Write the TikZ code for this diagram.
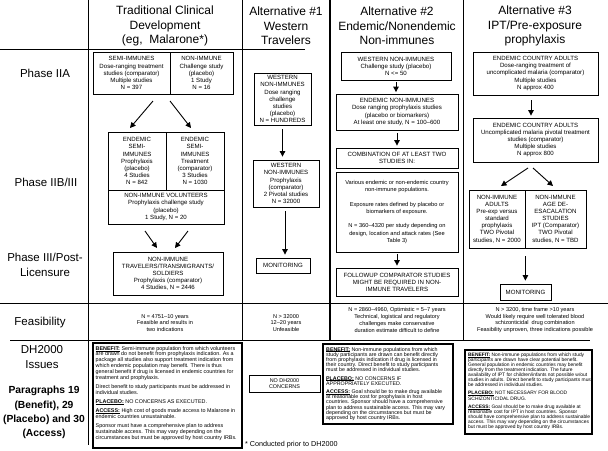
\documentclass[tikz,border=0pt]{standalone}
\usepackage{fontspec}
\setmainfont{Liberation Sans}
\usetikzlibrary{arrows.meta,calc}
\newcommand{\hdrf}{\fontsize{12}{14.5}\selectfont}
\newcommand{\phf}{\fontsize{11.5}{15}\selectfont}
\newcommand{\pbf}{\fontsize{10.3}{14.3}\selectfont\bfseries}
\newcommand{\bxf}{\fontsize{6.1}{7.1}\selectfont}
\newcommand{\bxsf}{\fontsize{5.7}{7.3}\selectfont}
\newcommand{\fsf}{\fontsize{5.6}{6.7}\selectfont}
\newcommand{\dhf}{\fontsize{5.4}{5.8}\selectfont}
\newcommand{\dhm}{\fontsize{5.3}{5.2}\selectfont}
\newcommand{\dhg}{\fontsize{4.9}{5.1}\selectfont}
\newsavebox{\kwbox}
\newcommand{\kw}[1]{\sbox{\kwbox}{\textbf{#1}}\usebox{\kwbox}\llap{\rule[-0.8pt]{\wd\kwbox}{0.35pt}}}
\begin{document}
\begin{tikzpicture}[x=1pt,y=-1pt,
  grid/.style={line width=0.9pt},
  bx/.style={draw, line width=0.8pt, align=center, inner sep=0pt, font=\bxf},
  arr/.style={line width=0.9pt, -{Triangle[length=5.5pt,width=5.5pt]}},
  hdr/.style={align=center, inner sep=0pt, font=\hdrf},
  phl/.style={align=center, inner sep=0pt, font=\phf},
  pbold/.style={align=center, inner sep=0pt, font=\pbf},
  fs/.style={align=center, inner sep=0pt, font=\fsf},
  dhbox/.style={draw, line width=1.2pt, inner sep=0pt},
  dhtext/.style={align=left, inner sep=0pt, anchor=north west}]
\lineskiplimit=-10pt
\fill[white] (0,0) rectangle (608,450);
\useasboundingbox (0,0) rectangle (608,450);

% grid
\draw[grid] (88,0) -- (88,445);
\draw[grid] (242,0) -- (242,340);
\draw[line width=1.4pt] (330,0) -- (330,340);
\draw[grid] (463,0) -- (463,340);
\draw[grid] (0,49) -- (305,49);
\draw[grid] (0,303) -- (608,303);
\draw[grid] (10,340) -- (590,340);

% headers
\node[hdr] (h1) at (165,26) {Traditional Clinical\\Development\\(eg,~ Malarone*)};
\node[hdr] (h2) at (286,26) {Alternative \#1\\Western\\Travelers};
\node[hdr] (h3) at (397,26) {Alternative \#2\\Endemic/Nonendemic\\Non-immunes};
\node[hdr] (h4) at (535,26) {Alternative \#3\\IPT/Pre-exposure\\prophylaxis};

% row labels
\node[phl] (p1) at (45,73) {Phase IIA};
\node[phl] (p2) at (46,182) {Phase IIB/III};
\node[phl] (p3) at (45,265) {Phase III/Post-\\Licensure};
\node[phl] (p4) at (40,323) {Feasibility};
\node[phl] (p5) at (42,357.5) {DH2000\\Issues};
\node[pbold] (p6) at (44,412.5) {Paragraphs 19\\(Benefit), 29\\(Placebo) and 30\\(Access)};

% column 1
\node[bx, minimum width=77pt, minimum height=42pt] (c1a) at (131.5,73) {SEMI-IMMUNES\\Dose-ranging treatment\\studies (comparator)\\Multiple studies\\N = 397};
\node[bx, minimum width=63pt, minimum height=42pt] (c1b) at (201.5,73) {NON-IMMUNE\\Challenge study\\(placebo)\\1 Study\\N = 16};
\node[bx, minimum width=58pt, minimum height=58pt] (c1c) at (137,161) {ENDEMIC\\SEMI-\\IMMUNES\\Prophylaxis\\(placebo)\\4 Studies\\N = 842};
\node[bx, minimum width=58pt, minimum height=58pt] (c1d) at (195,161) {ENDEMIC\\SEMI-\\IMMUNES\\Treatment\\(comparator)\\3 Studies\\N = 1030};
\node[bx, minimum width=116pt, minimum height=34pt] (c1e) at (166,207) {NON-IMMUNE VOLUNTEERS\\Prophylaxis challenge study\\(placebo)\\1 Study, N = 20};
\node[bx, minimum width=110pt, minimum height=43pt] (c1f) at (168,273.5) {NON-IMMUNE\\TRAVELERS/TRANSMIGRANTS/\\SOLDIERS\\Prophylaxis (comparator)\\4 Studies, N = 2446};
\coordinate (a1s) at (153,101); \coordinate (a1e) at (130,128);
\coordinate (a2s) at (170,101); \coordinate (a2e) at (191,128);
\coordinate (a3s) at (145,231); \coordinate (a3e) at (157,248);
\coordinate (a4s) at (188,231); \coordinate (a4e) at (175,248);
\draw[arr] (a1s) -- (a1e);
\draw[arr] (a2s) -- (a2e);
\draw[arr] (a3s) -- (a3e);
\draw[arr] (a4s) -- (a4e);

% column 2
\node[bx, minimum width=57pt, minimum height=52pt] (c2a) at (282.5,99) {WESTERN\\NON-IMMUNES\\Dose ranging\\challenge\\studies\\(placebo)\\N = HUNDREDS};
\node[bx, minimum width=66pt, minimum height=47pt] (c2b) at (286,183.5) {WESTERN\\NON-IMMUNES\\Prophylaxis\\(comparator)\\2 Pivotal studies\\N = 32000};
\node[bx, minimum width=54pt, minimum height=15pt] (c2c) at (283,265.5) {MONITORING};
\draw[arr] ($(c2a.south)+(0,4)$) -- ($(c2a.south |- c2b.north)+(0,-3)$);
\draw[arr] ($(c2b.south)+(-1,4)$) -- ($(c2b.south |- c2c.north)+(-1,-3)$);

% column 3
\node[bx, minimum width=110pt, minimum height=28pt] (c3a) at (396,66) {WESTERN NON-IMMUNES\\Challenge study (placebo)\\N <= 50};
\node[bx, minimum width=122pt, minimum height=36pt] (c3b) at (397,112) {ENDEMIC NON-IMMUNES\\Dose ranging prophylaxis studies\\(placebo or biomarkers)\\At least one study, N = 100–600};
\node[bx, minimum width=122pt, minimum height=20pt] (c3c) at (397,158) {COMBINATION OF AT LEAST TWO\\STUDIES IN:};
\node[bx, minimum width=122pt, minimum height=80pt, font=\bxsf] (c3d) at (397,212) {Various endemic or non-endemic country\\non-immune populations.\\[7pt]Exposure rates defined by placebo or\\biomarkers of exposure.\\[7pt]N = 360–4320 per study depending on\\design, location and attack rates (See\\Table 3)};
\node[bx, minimum width=122pt, minimum height=28pt] (c3e) at (397,282) {FOLLOWUP COMPARATOR STUDIES\\MIGHT BE REQUIRED IN NON-\\IMMUNE TRAVELERS};
\draw[arr] ($(c3a.south)+(0,2)$) -- ($(c3a.south |- c3b.north)+(0,-1.5)$);
\draw[arr] ($(c3b.south)+(0,3)$) -- ($(c3b.south |- c3c.north)+(0,-2)$);
\draw[arr] ($(c3d.south)+(0,2)$) -- ($(c3d.south |- c3e.north)+(0,-2)$);

% column 4
\node[bx, minimum width=125pt, minimum height=43pt] (c4a) at (535.5,73.5) {ENDEMIC COUNTRY ADULTS\\Dose-ranging treatment of\\uncomplicated malaria (comparator)\\Multiple studies\\N approx 400};
\node[bx, minimum width=125pt, minimum height=44pt] (c4b) at (535.5,140) {ENDEMIC COUNTRY ADULTS\\Uncomplicated malaria pivotal treatment\\studies (comparator)\\Multiple studies\\N approx 800};
\node[bx, minimum width=56pt, minimum height=58pt] (c4c) at (497,219) {NON-IMMUNE\\ADULTS\\Pre-exp versus\\standard\\prophylaxis\\TWO Pivotal\\studies, N = 2000};
\node[bx, minimum width=61pt, minimum height=58pt] (c4d) at (555.5,219) {NON-IMMUNE\\AGE DE-\\ESACALATION\\STUDIES\\IPT (Comparator)\\TWO Pivotal\\studies, N = TBD};
\node[bx, minimum width=51pt, minimum height=16pt] (c4e) at (525.5,292) {MONITORING};
\draw[arr] ($(c4a.south)+(-4.5,5)$) -- ($(c4a.south |- c4b.north)+(-4.5,-2)$);
\coordinate (d1s) at (528,168); \coordinate (d1e) at (501,186);
\coordinate (d2s) at (533,168); \coordinate (d2e) at (553,186);
\draw[arr] (d1s) -- (d1e);
\draw[arr] (d2s) -- (d2e);
\draw[arr] ($(c4c.south east)+(0,8)$) -- ($(c4c.south east |- c4e.north)+(0,-3)$);

% feasibility
\node[fs] (f1) at (165,323) {N = 4751–10 years\\Feasible and results in\\two indications};
\node[fs] (f2) at (286,323) {N > 32000\\12–20 years\\Unfeasible};
\node[fs] (f3) at (397,320) {N = 2860–4960, Optimistic = 5–7 years\\Technical, logistical and regulatory\\challenges make conservative\\duration estimate difficult to define};
\node[fs] (f4) at (535,320) {N > 3200, time frame >10 years\\Would likely require well tolerated blood\\schizonticidal~ drug combination\\Feasibility unproven, three indications possible};

% DH2000 issues
\node[dhbox, minimum width=149pt, minimum height=105pt] (b1) at (167.5,395.5) {};
\node[dhtext, font=\dhf] (t1) at (95.5,346) {\kw{BENEFIT:} Semi-immune population from which volunteers\\are drawn do not benefit from prophylaxis indication. As a\\package all studies also support treatment indication from\\which endemic population may benefit. There is thus\\general benefit if drug is licensed in endemic countries for\\treatment and prophylaxis.\\[3.5pt]Direct benefit to study participants must be addressed in\\individual studies.\\[3.5pt]\kw{PLACEBO:} NO CONCERNS AS EXECUTED.\\[3.5pt]\kw{ACCESS:} High cost of goods made access to Malarone in\\endemic countries unsustainable.\\[3.5pt]Sponsor must have a comprehensive plan to address\\sustainable access. This may vary depending on the\\circumstances but must be approved by host country IRBs.};

\node[bx, minimum width=71pt, minimum height=17pt, font=\fontsize{5.4}{6.4}\selectfont] (b2) at (284.5,383.5) {NO DH2000\\CONCERNS};

\node[dhbox, minimum width=130pt, minimum height=80pt] (b3) at (388,384) {};
\node[dhtext, font=\dhm] (t3) at (326,347) {\kw{BENEFIT:} Non-immune populations from which\\study participants are drawn can benefit directly\\from prophylaxis indication if drug is licensed in\\their country. Direct benefit to study participants\\must be addressed in individual studies.\\[3pt]\kw{PLACEBO:} NO CONCERNS IF\\APPROPRIATELY EXECUTED.\\[3pt]\kw{ACCESS:} Goal should be to make drug available\\at reasonable cost for prophylaxis in host\\countries. Sponsor should have a comprehensive\\plan to address sustainable access. This may vary\\depending on the circumstances but must be\\approved by host country IRBs.};

\node[dhbox, minimum width=127pt, minimum height=84pt] (b4) at (528.5,392) {};
\node[dhtext, font=\dhg] (t4) at (468,352.5) {\kw{BENEFIT:} Non-immune populations from which study\\participants are drawn have clear potential benefit.\\General population in endemic countries may benefit\\directly from the treatment indication. The future\\availability of IPT for children/infants not possible w/out\\studies in adults. Direct benefit to study participants must\\be addressed in individual studies.\\[3pt]\kw{PLACEBO:} NOT NECESSARY FOR BLOOD\\SCHIZONTICIDAL DRUG.\\[3pt]\kw{ACCESS:} Goal should be to make drug available at\\reasonable cost for IPT in host countries. Sponsor\\should have comprehensive plan to address sustainable\\access. This may vary depending on the circumstances\\but must be approved by host country IRBs.};

\node[anchor=west, inner sep=0pt, font=\fontsize{7.2}{8}\selectfont] (fn) at (245,445) {* Conducted prior to DH2000};
\end{tikzpicture}
\end{document}
